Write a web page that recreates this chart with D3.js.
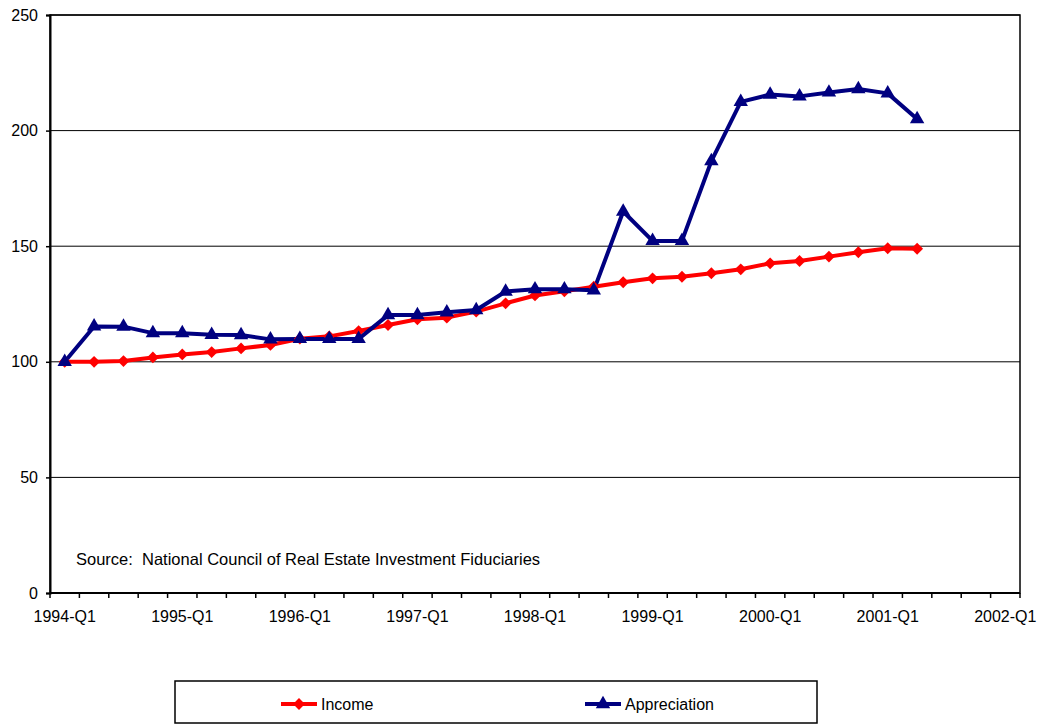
<!DOCTYPE html>
<html>
<head>
<meta charset="utf-8">
<script src="https://cdn.jsdelivr.net/npm/d3@7"></script>
<style>
  html, body { margin: 0; padding: 0; background: #fff; }
  svg { display: block; font-family: "Liberation Sans", Arial, sans-serif; }
</style>
</head>
<body>
<svg id="chart" width="1039" height="725"></svg>
<script>
// Quarterly categories 1994-Q1 .. 2002-Q1
const quarters = [];
for (let yr = 1994; yr <= 2002; yr++) {
  for (let q = 1; q <= 4; q++) {
    if (yr === 2002 && q > 1) break;
    quarters.push(yr + "-Q" + q);
  }
}
const tickLabels = ["1994-Q1","1995-Q1","1996-Q1","1997-Q1","1998-Q1","1999-Q1","2000-Q1","2001-Q1","2002-Q1"];
const yTicks = [0, 50, 100, 150, 200, 250];

// NCREIF index components (1994-Q1 = 100)
const income = [100, 100, 100.3, 101.9, 103.2, 104.2, 105.8, 107.3, 110, 111,
  113.3, 115.9, 118.4, 119.1, 121.7, 125.3, 128.7, 130.5, 132.5, 134.4,
  136.1, 136.8, 138.3, 140, 142.6, 143.6, 145.5, 147.4, 149.1, 148.9];
const appreciation = [100, 115.3, 115.2, 112.4, 112.4, 111.7, 111.6, 109.7, 109.9, 109.9,
  109.9, 120.2, 120.2, 121.4, 122.4, 130.4, 131.4, 131.4, 130.9, 165,
  152.3, 152.3, 186.8, 212.4, 215.6, 214.8, 216.5, 218, 216.1, 205];

const svg = d3.select("#chart");
const plotL = 50, plotR = 1020, plotT = 15, plotB = 593;

const x = d3.scaleBand().domain(quarters).range([plotL, plotR]).padding(0);
const y = d3.scaleLinear().domain([0, 250]).range([plotB, plotT]);
const cx = q => x(q) + x.bandwidth() / 2;

// Horizontal gridlines
svg.append("g").selectAll("line").data(yTicks.filter(d => d > 0)).join("line")
  .attr("x1", plotL).attr("x2", plotR)
  .attr("y1", d => y(d)).attr("y2", d => y(d))
  .attr("stroke", "#000").attr("stroke-width", 1);

// Plot frame
svg.append("rect").attr("x", plotL).attr("y", plotT)
  .attr("width", plotR - plotL).attr("height", plotB - plotT)
  .attr("fill", "none").attr("stroke", "#000").attr("stroke-width", 1.5);

// Y axis
const yAxis = svg.append("g").attr("transform", `translate(${plotL},0)`)
  .call(d3.axisLeft(y).tickValues(yTicks).tickSize(4).tickPadding(8));
yAxis.select(".domain").attr("stroke", "#000").attr("stroke-width", 2);
yAxis.selectAll(".tick line").attr("stroke", "#000").attr("stroke-width", 1.5);
yAxis.selectAll("text").attr("font-size", 16).attr("fill", "#000")
  .attr("font-family", "Liberation Sans, Arial, sans-serif");

// X axis: tick marks at category boundaries, labels centred on categories
const xAxis = svg.append("g").attr("transform", `translate(0,${plotB})`);
xAxis.append("line").attr("x1", plotL).attr("x2", plotR).attr("y1", 0).attr("y2", 0)
  .attr("stroke", "#000").attr("stroke-width", 2);
const bounds = quarters.map(q => x(q)).concat([x(quarters[quarters.length - 1]) + x.bandwidth()]);
xAxis.selectAll("line.tk").data(bounds).join("line").attr("class", "tk")
  .attr("x1", d => d).attr("x2", d => d).attr("y1", 0).attr("y2", 5)
  .attr("stroke", "#000").attr("stroke-width", 1.5);
xAxis.selectAll("text").data(tickLabels).join("text")
  .attr("x", d => cx(d)).attr("y", 29)
  .attr("text-anchor", "middle").attr("font-size", 16).attr("fill", "#000")
  .text(d => d);

// Marker shapes: square diamond and upward triangle
const diamond = d3.symbol().type(d3.symbolSquare).size(70);
const triangle = d3.symbol().type(d3.symbolTriangle).size(90);

const series = [
  { name: "Income", values: income, color: "#ff0000", marker: diamond, rot: 45 },
  { name: "Appreciation", values: appreciation, color: "#000080", marker: triangle, rot: 0 }
];

const line = d3.line().x((d, i) => cx(quarters[i])).y(d => y(d));

series.forEach(s => {
  svg.append("path").datum(s.values)
    .attr("d", line).attr("fill", "none")
    .attr("stroke", s.color).attr("stroke-width", 4).attr("stroke-linejoin", "round");
});
series.forEach(s => {
  svg.append("g").selectAll("path").data(s.values).join("path")
    .attr("transform", (d, i) => `translate(${cx(quarters[i])},${y(d)}) rotate(${s.rot})`)
    .attr("d", s.marker())
    .attr("fill", s.color);
});

// Source note
svg.append("text").attr("x", 76).attr("y", 565)
  .attr("font-size", 16.5).attr("fill", "#000")
  .attr("xml:space", "preserve")
  .text("Source:  National Council of Real Estate Investment Fiduciaries");

// Legend
const legend = svg.append("g");
legend.append("rect").attr("x", 175).attr("y", 681).attr("width", 642).attr("height", 42)
  .attr("fill", "#fff").attr("stroke", "#000").attr("stroke-width", 1.5);
const legendPos = [281, 585];
series.forEach((s, i) => {
  const lx = legendPos[i], ly = 704;
  legend.append("line").attr("x1", lx).attr("x2", lx + 36).attr("y1", ly).attr("y2", ly)
    .attr("stroke", s.color).attr("stroke-width", 4);
  legend.append("path").attr("transform", `translate(${lx + 18},${ly}) rotate(${s.rot})`)
    .attr("d", s.marker()).attr("fill", s.color);
  legend.append("text").attr("x", lx + 40).attr("y", ly + 6)
    .attr("font-size", 16).attr("fill", "#000").text(s.name);
});
</script>
</body>
</html>
